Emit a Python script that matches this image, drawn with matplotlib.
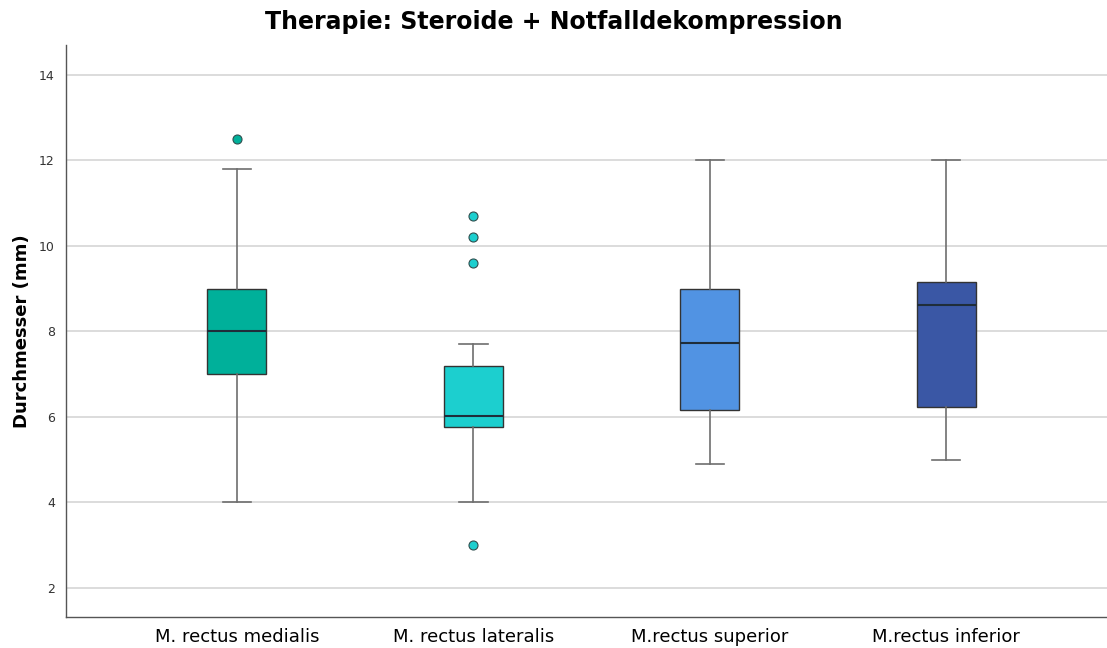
import matplotlib.pyplot as plt

# === Datos ===
labels = ["M. rectus medialis", "M. rectus lateralis", "M.rectus superior", "M.rectus inferior"]
q1 = [7.0, 5.77, 6.16, 6.23]
med = [8.0, 6.02, 7.73, 8.62]
q3 = [9.0, 7.2, 9.0, 9.15]
whislo = [4.0, 4.0, 4.9, 5.0]
whishi = [11.8, 7.7, 12.0, 12.0]
fliers = [[12.5], [10.7, 10.2, 9.6, 3.0], [], []]
colors = ["#00b09a", "#1ccfcf", "#5193e3", "#3a57a5"]

stats = []
for i in range(len(labels)):
    stats.append(dict(label=labels[i], q1=q1[i], med=med[i], q3=q3[i],
                      whislo=whislo[i], whishi=whishi[i], fliers=fliers[i]))

fig = plt.figure(figsize=(11.07, 6.48), dpi=100)
ax = fig.add_axes([0.0596, 0.0478, 0.9404, 0.883])

pos = [1, 2, 3, 4]
bp = ax.bxp(stats, positions=pos, widths=0.25, patch_artist=True, showfliers=True,
            boxprops=dict(edgecolor="#333333", linewidth=1.0),
            medianprops=dict(color="#1f2d3a", linewidth=1.5),
            whiskerprops=dict(color="#6e6e6e", linewidth=1.2),
            capprops=dict(color="#6e6e6e", linewidth=1.2),
            capwidths=0.12)

for patch, c in zip(bp["boxes"], colors):
    patch.set_facecolor(c)
for fl, c in zip(bp["fliers"], colors):
    fl.set(marker="o", markerfacecolor=c, markeredgecolor="#2f4f4f",
           markersize=6.5, markeredgewidth=0.8)

ax.set_xlim(0.277, 4.68)
ax.set_ylim(1.32, 14.7)
ax.set_yticks([2, 4, 6, 8, 10, 12, 14])
ax.yaxis.grid(True, color="#d9d9d9", linewidth=1.3)
ax.set_axisbelow(True)

ax.set_xticks(pos)
ax.set_xticklabels(labels, fontsize=13, family=["Liberation Sans Narrow", "DejaVu Sans"])
ax.tick_params(axis="x", length=0, pad=8)
ax.tick_params(axis="y", length=0, labelsize=9, pad=8, labelcolor="#333333")

for s in ["top", "right"]:
    ax.spines[s].set_visible(False)
for s in ["left", "bottom"]:
    ax.spines[s].set_color("#555555")
    ax.spines[s].set_linewidth(1.0)

ax.set_ylabel("Durchmesser (mm)", fontsize=13, fontweight="bold", labelpad=6)
fig.suptitle("Therapie: Steroide + Notfalldekompression", fontsize=17,
             fontweight="bold", x=0.5, y=0.985)

fig.savefig("out.png", dpi=100)
